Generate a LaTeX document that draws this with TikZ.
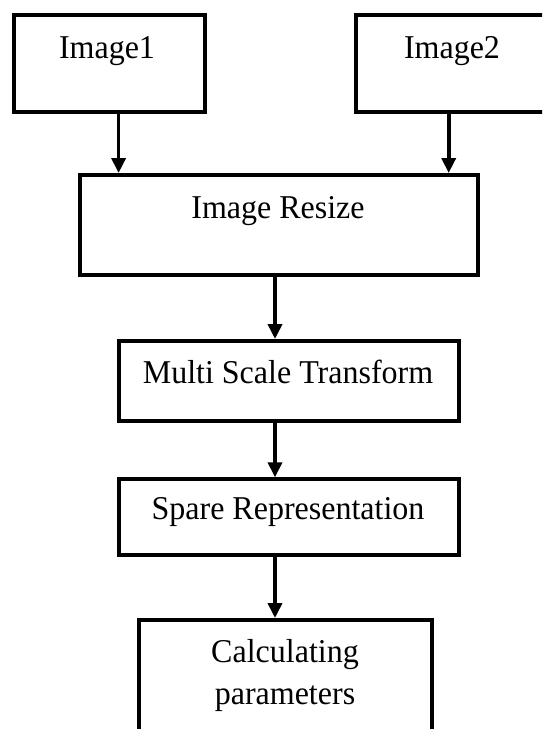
\documentclass[tikz,border=0pt]{standalone}
\usepackage{fontspec}
\setmainfont{Liberation Serif}
\usetikzlibrary{arrows.meta}
\begin{document}
\begin{tikzpicture}[x=1pt,y=-1pt,
  box/.style={draw=black,line width=4pt,inner sep=0pt,rectangle},
  lbl/.style={anchor=base,inner sep=0pt,font=\fontsize{32pt}{38pt}\selectfont},
  arr/.style={line width=3.6pt,-{Triangle[width=14pt,length=15pt]}}]
\useasboundingbox (0,0) rectangle (542,729);
\clip (0,0) rectangle (542,729);
% boxes
\node[box,minimum width=191pt,minimum height=96.7pt] (img1) at (109.5,63.35) {};
\node[box,minimum width=264pt,minimum height=96.7pt] (img2) at (488,63.35) {};
\node[box,minimum width=398pt,minimum height=100pt] (resize) at (279,225) {};
\node[box,minimum width=340pt,minimum height=79.7pt] (multi) at (289,380.85) {};
\node[box,minimum width=340pt,minimum height=75.4pt] (spare) at (289,517) {};
\node[box,minimum width=293pt,minimum height=200pt] (calc) at (285.5,720) {};
% texts
\node[lbl] (t1) at (107,58.3) {\scalebox{1}[1.04]{Image1}};
\node[lbl] (t2) at (452,58.3) {\scalebox{1}[1.04]{Image2}};
\node[lbl] (t3) at (278,218.3) {\scalebox{1}[1.04]{Image Resize}};
\node[lbl] (t4) at (288,383.3) {\scalebox{1}[1.04]{Multi Scale Transform}};
\node[lbl] (t5) at (288,519) {\scalebox{1}[1.04]{Spare Representation}};
\node[lbl] (t6) at (285,662.3) {\scalebox{1}[1.04]{Calculating}};
\node[lbl] (t7) at (285,704) {\scalebox{1}[1.04]{parameters}};
% arrow columns
\coordinate (c1) at (118.6,0);
\coordinate (c2) at (448.7,0);
\coordinate (c3) at (275,0);
\draw[arr] (img1.south -| c1) -- (resize.north -| c1);
\draw[arr] (img2.south -| c2) -- (resize.north -| c2);
\draw[arr] (resize.south -| c3) -- (multi.north -| c3);
\draw[arr] (multi.south -| c3) -- (spare.north -| c3);
\draw[arr] (spare.south -| c3) -- (calc.north -| c3);
\end{tikzpicture}
\end{document}
